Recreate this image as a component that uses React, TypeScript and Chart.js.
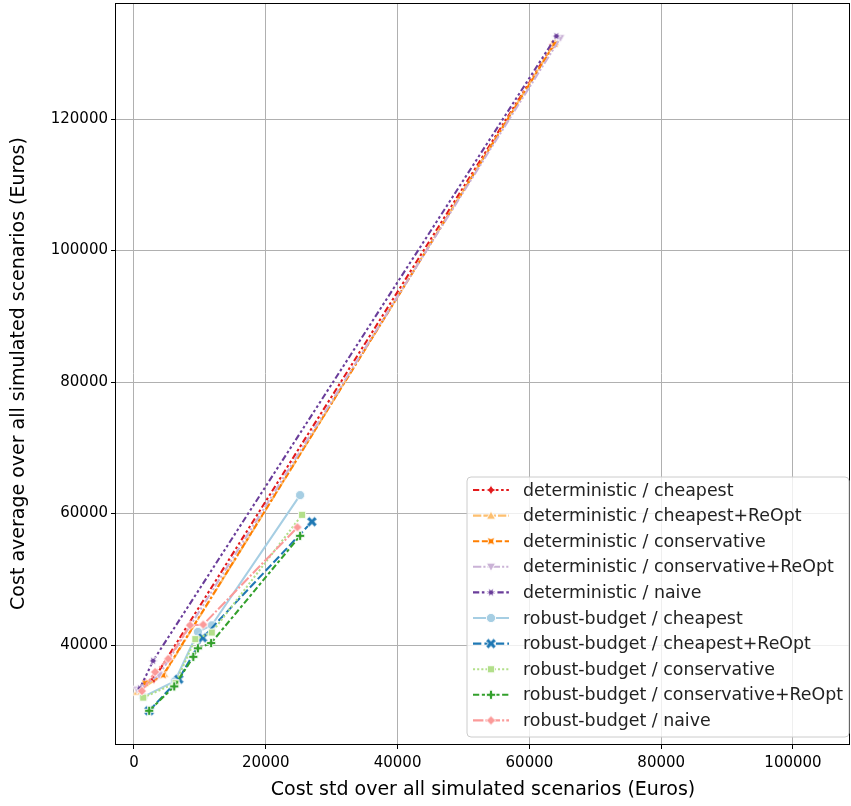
import React, { useEffect, useRef } from 'react';
import { Chart, registerables } from 'chart.js';

Chart.register(...registerables);

// ---------- data ----------
const seriesNames = [
  'deterministic / cheapest',
  'deterministic / cheapest+ReOpt',
  'deterministic / conservative',
  'deterministic / conservative+ReOpt',
  'deterministic / naive',
  'robust-budget / cheapest',
  'robust-budget / cheapest+ReOpt',
  'robust-budget / conservative',
  'robust-budget / conservative+ReOpt',
  'robust-budget / naive',
];

const detCheapestX = [1800, 3000, 63600];
const detCheapestY = [34200, 34800, 131300];
const detCheapestReOptX = [500, 4600, 63900];
const detCheapestReOptY = [32900, 35600, 131700];
const detConservativeX = [1700, 4400, 63800];
const detConservativeY = [34200, 35400, 131400];
const detConservativeReOptX = [500, 3800, 64700];
const detConservativeReOptY = [33200, 35400, 132300];
const detNaiveX = [900, 2900, 64100];
const detNaiveY = [33400, 37600, 132600];

const rbCheapestX = [1400, 6200, 9700, 11800, 25200];
const rbCheapestY = [32100, 34500, 42000, 43000, 62800];
const rbCheapestReOptX = [2300, 6800, 10400, 27000];
const rbCheapestReOptY = [30000, 34800, 41100, 58750];
const rbConservativeX = [1400, 6300, 9300, 11800, 25500];
const rbConservativeY = [32000, 34200, 40900, 41900, 59800];
const rbConservativeReOptX = [2300, 6100, 9000, 9700, 11700, 25200];
const rbConservativeReOptY = [30000, 33700, 38200, 39500, 40300, 56600];
const rbNaiveX = [1200, 3200, 5200, 8500, 10500, 24800];
const rbNaiveY = [33000, 35900, 37900, 43000, 43100, 57900];

const xTicks = [0, 20000, 40000, 60000, 80000, 100000];
const yTicks = [40000, 60000, 80000, 100000, 120000];

const xTitle = 'Cost std over all simulated scenarios (Euros)';
const yTitle = 'Cost average over all simulated scenarios (Euros)';

// ---------- styles ----------
const seriesColors = [
  '#e31a1c', '#fdbf6f', '#ff7f00', '#cab2d6', '#6a3d9a',
  '#a6cee3', '#1f78b4', '#b2df8a', '#33a02c', '#fb9a99',
];
const seriesMarkers = [
  'star4', 'triUp', 'star4rot', 'triDown', 'star6',
  'circle', 'xfill', 'square', 'plusfill', 'diamond',
];
const LW = 2.08;
const seriesDashUnits: number[][] = [
  [3, 1.25, 1.25, 1.25, 1.25, 1.25],
  [4, 1, 4, 1, 1, 1],
  [3, 1.25, 3, 1.25, 1.25, 1.25],
  [4, 1, 1, 1, 1, 1],
  [3, 1.25, 1.25, 1.25, 1.25, 1.25, 1.25, 1.25],
  [],
  [4, 1.5],
  [1, 1],
  [3, 1.25, 1.5, 1.25],
  [5, 1, 1, 1],
];

const FONT = "'DejaVu Sans', sans-serif";
const TICK_FS = 15;
const LEGEND_FS = 17.4;
const TITLE_FS = 19;

function polyPath(ctx: CanvasRenderingContext2D, pts: number[][]) {
  ctx.beginPath();
  pts.forEach((p, i) => (i === 0 ? ctx.moveTo(p[0], p[1]) : ctx.lineTo(p[0], p[1])));
  ctx.closePath();
}

function starPts(n: number, r: number, rotDeg: number) {
  const pts: number[][] = [];
  for (let i = 0; i < 2 * n; i++) {
    const rr = i % 2 === 0 ? r : r * 0.5;
    const a = Math.PI / 2 + (i * Math.PI) / n + (rotDeg * Math.PI) / 180;
    pts.push([rr * Math.cos(a), -rr * Math.sin(a)]);
  }
  return pts;
}

function plusPts(r: number, rotDeg: number) {
  const w = r / 3;
  const base = [
    [-w, -r], [w, -r], [w, -w], [r, -w], [r, w], [w, w],
    [w, r], [-w, r], [-w, w], [-r, w], [-r, -w], [-w, -w],
  ];
  const a = (rotDeg * Math.PI) / 180;
  return base.map(([x, y]) => [x * Math.cos(a) - y * Math.sin(a), x * Math.sin(a) + y * Math.cos(a)]);
}

function makeMarker(kind: string, color: string): HTMLCanvasElement {
  const S = 20;
  const c = document.createElement('canvas');
  c.width = S;
  c.height = S;
  const ctx = c.getContext('2d')!;
  ctx.translate(S / 2, S / 2);
  const r = 4.6;
  switch (kind) {
    case 'circle':
      ctx.beginPath();
      ctx.arc(0, 0, r, 0, Math.PI * 2);
      break;
    case 'square': {
      const h = r * 0.78;
      polyPath(ctx, [[-h, -h], [h, -h], [h, h], [-h, h]]);
      break;
    }
    case 'diamond':
      polyPath(ctx, [[0, -r], [r, 0], [0, r], [-r, 0]]);
      break;
    case 'xfill':
      polyPath(ctx, plusPts(r * 1.2, 45));
      break;
    case 'plusfill':
      polyPath(ctx, plusPts(r, 0));
      break;
    case 'triUp':
      polyPath(ctx, [[0, -r], [-r, r * 0.8], [r, r * 0.8]]);
      break;
    case 'triDown':
      polyPath(ctx, [[0, r], [-r, -r * 0.8], [r, -r * 0.8]]);
      break;
    case 'star4':
      polyPath(ctx, starPts(4, r * 1.1, 0));
      break;
    case 'star4rot':
      polyPath(ctx, starPts(4, r * 1.1, 45));
      break;
    case 'star6':
      polyPath(ctx, starPts(6, r, 30));
      break;
  }
  ctx.fillStyle = color;
  ctx.fill();
  ctx.strokeStyle = '#ffffff';
  ctx.lineWidth = 0.9;
  ctx.stroke();
  return c;
}

const seriesX = [
  detCheapestX, detCheapestReOptX, detConservativeX, detConservativeReOptX, detNaiveX,
  rbCheapestX, rbCheapestReOptX, rbConservativeX, rbConservativeReOptX, rbNaiveX,
];
const seriesY = [
  detCheapestY, detCheapestReOptY, detConservativeY, detConservativeReOptY, detNaiveY,
  rbCheapestY, rbCheapestReOptY, rbConservativeY, rbConservativeReOptY, rbNaiveY,
];

export default function App() {
  const ref = useRef<HTMLCanvasElement | null>(null);

  useEffect(() => {
    if (!ref.current) return;
    const markers = seriesMarkers.map((m, i) => makeMarker(m, seriesColors[i]));

    const datasets = seriesNames.map((name, i) => ({
      label: name,
      data: seriesX[i].map((x, j) => ({ x, y: seriesY[i][j] })),
      showLine: true,
      borderColor: seriesColors[i],
      backgroundColor: seriesColors[i],
      borderWidth: LW,
      borderDash: seriesDashUnits[i].map((d) => d * LW),
      pointStyle: markers[i] as any,
      pointRadius: 4,
      pointHoverRadius: 4,
      order: seriesNames.length - i,
      tension: 0,
    }));

    const framePlugin = {
      id: 'frameAndLegend',
      afterDraw(chart: any) {
        const ctx: CanvasRenderingContext2D = chart.ctx;
        const a = chart.chartArea;
        ctx.save();
        ctx.strokeStyle = '#000';
        ctx.lineWidth = 1;
        ctx.strokeRect(a.left - 0.5, a.top + 0.5, a.right - a.left, a.bottom - a.top);

        // legend
        const lx = 467, ly = 477, lw = 382, lh = 260;
        const rad = 4;
        ctx.beginPath();
        ctx.moveTo(lx + rad, ly);
        ctx.lineTo(lx + lw - rad, ly);
        ctx.arcTo(lx + lw, ly, lx + lw, ly + rad, rad);
        ctx.lineTo(lx + lw, ly + lh - rad);
        ctx.arcTo(lx + lw, ly + lh, lx + lw - rad, ly + lh, rad);
        ctx.lineTo(lx + rad, ly + lh);
        ctx.arcTo(lx, ly + lh, lx, ly + lh - rad, rad);
        ctx.lineTo(lx, ly + rad);
        ctx.arcTo(lx, ly, lx + rad, ly, rad);
        ctx.closePath();
        ctx.fillStyle = 'rgba(255,255,255,0.8)';
        ctx.fill();
        ctx.strokeStyle = '#cccccc';
        ctx.lineWidth = 1;
        ctx.stroke();

        ctx.font = `${LEGEND_FS}px ${FONT}`;
        ctx.textBaseline = 'middle';
        ctx.textAlign = 'left';
        seriesNames.forEach((name, i) => {
          const y = 490 + i * 25.6;
          ctx.beginPath();
          ctx.setLineDash(seriesDashUnits[i].map((d) => d * LW));
          ctx.strokeStyle = seriesColors[i];
          ctx.lineWidth = LW;
          ctx.moveTo(473, y);
          ctx.lineTo(509, y);
          ctx.stroke();
          ctx.setLineDash([]);
          const m = markers[i];
          ctx.drawImage(m, 491 - m.width / 2, y - m.height / 2);
          ctx.fillStyle = '#222';
          ctx.fillText(name, 523, y + 1);
        });
        ctx.restore();
      },
    };

    const chart = new Chart(ref.current, {
      type: 'scatter',
      data: { datasets: datasets as any },
      options: {
        responsive: false,
        animation: false,
        devicePixelRatio: 1,
        layout: { padding: { top: 3, right: 1, left: 0, bottom: 0 }, autoPadding: false },
        plugins: { legend: { display: false }, tooltip: { enabled: false } },
        scales: {
          x: {
            type: 'linear',
            min: -2731,
            max: 108650,
            afterBuildTicks: (scale: any) => {
              scale.ticks = xTicks.map((v) => ({ value: v }));
            },
            afterFit: (scale: any) => {
              scale.height = 62;
              scale.paddingLeft = 0;
              scale.paddingRight = 0;
            },
            ticks: {
              color: '#000',
              font: { family: FONT, size: TICK_FS },
              padding: 5,
              maxRotation: 0,
              callback: (v: any) => String(v),
            },
            grid: { color: '#b0b0b0', lineWidth: 1, tickColor: '#000', tickLength: 5 },
            border: { display: false },
            title: {
              display: true,
              text: xTitle,
              color: '#000',
              font: { family: FONT, size: TITLE_FS },
              padding: { top: 0, bottom: 4.5 },
            },
          },
          y: {
            type: 'linear',
            min: 24943,
            max: 137643,
            afterBuildTicks: (scale: any) => {
              scale.ticks = yTicks.map((v) => ({ value: v }));
            },
            afterFit: (scale: any) => {
              scale.width = 116;
              scale.paddingTop = 0;
              scale.paddingBottom = 0;
            },
            ticks: {
              color: '#000',
              font: { family: FONT, size: TICK_FS },
              padding: 3,
              callback: (v: any) => String(v),
            },
            grid: { color: '#b0b0b0', lineWidth: 1, tickColor: '#000', tickLength: 5 },
            border: { display: false },
            title: {
              display: true,
              text: yTitle,
              color: '#000',
              font: { family: FONT, size: TITLE_FS },
              padding: { top: 7.5, bottom: 0 },
            },
          },
        },
      },
      plugins: [framePlugin],
    });
    return () => chart.destroy();
  }, []);

  return (
    <div style={{ position: 'absolute', left: 0, top: 0, width: 851, height: 806, background: '#fff' }}>
      <canvas ref={ref} width={851} height={806} style={{ display: 'block' }} />
    </div>
  );
}
